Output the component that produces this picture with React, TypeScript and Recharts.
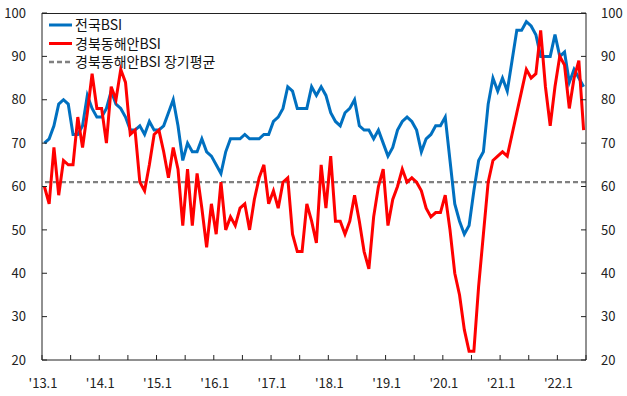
import React from 'react';
import { LineChart, Line, XAxis, YAxis, ReferenceLine } from 'recharts';

// 전국BSI (monthly, '13.1 ~ '22.6)
const nationalBSI = [
  70, 71, 74, 79, 80, 79, 72, 72, 74, 81,
  78, 76, 76, 78, 82, 79, 78, 76, 73, 73,
  74, 72, 75, 73, 73, 74, 77, 80, 74, 66,
  70, 68, 68, 71, 68, 67, 65, 63, 68, 71,
  71, 71, 72, 71, 71, 71, 72, 72, 75, 76,
  78, 83, 82, 78, 78, 78, 83, 81, 83, 81,
  77, 75, 74, 77, 78, 80, 74, 73, 73, 71,
  73, 70, 67, 69, 73, 75, 76, 75, 73, 68,
  71, 72, 74, 74, 76, 66, 56, 52, 49, 51,
  59, 66, 68, 79, 85, 82, 85, 82, 89, 96,
  96, 98, 97, 95, 90, 90, 90, 95, 90, 91,
  84, 87, 85, 83,
];

// 경북동해안BSI
const eastCoastBSI = [
  60, 56, 69, 58, 66, 65, 65, 76, 69, 77,
  86, 78, 78, 70, 83, 80, 87, 84, 72, 73,
  61, 59, 65, 72, 73, 68, 62, 69, 64, 51,
  64, 51, 63, 55, 46, 56, 49, 61, 50, 53,
  51, 55, 56, 50, 57, 62, 65, 56, 59, 55,
  61, 62, 49, 45, 45, 56, 52, 47, 65, 55,
  67, 52, 52, 49, 52, 58, 52, 45, 41, 53,
  60, 64, 51, 57, 60, 64, 61, 62, 61, 59,
  55, 53, 54, 54, 58, 50, 40, 35, 27, 22,
  22, 37, 49, 61, 66, 67, 68, 67, 72, 77,
  82, 87, 85, 86, 96, 83, 74, 83, 90, 88,
  78, 85, 89, 73,
];

// 경북동해안BSI 장기평균
const longTermAverage = 61;

const yearTickLabels = ["'13.1", "'14.1", "'15.1", "'16.1", "'17.1", "'18.1", "'19.1", "'20.1", "'21.1", "'22.1"];
const xTicks = [0, 6, 12, 18, 24, 30, 36, 42, 48, 54, 60, 66, 72, 78, 84, 90, 96, 102, 108, 114];
const yTicks = [20, 30, 40, 50, 60, 70, 80, 90, 100];

const data = nationalBSI.map((v, i) => ({
  x: i + 0.5,
  national: v,
  eastCoast: eastCoastBSI[i],
}));

const FONT = "'Noto Sans CJK KR', 'Noto Sans', sans-serif";
const AXIS = '#222';
const BLUE = '#0070C0';
const RED = '#FF0000';
const GRAY = '#808080';

const XTick = (props: any) => {
  const { x, y, payload } = props;
  const v = payload.value as number;
  const label = v % 12 === 0 ? yearTickLabels[v / 12] : '';
  return (
    <g>
      <line x1={x} x2={x} y1={y} y2={y - 5} stroke={AXIS} strokeWidth={1} />
      {label ? (
        <text x={x + 1} y={y + 28} textAnchor="middle" fontSize={13} fontFamily={FONT} fill="#222">
          {label}
        </text>
      ) : null}
    </g>
  );
};

const LeftTick = (props: any) => {
  const { x, y, payload } = props;
  return (
    <g>
      <line x1={x} x2={x + 5} y1={y} y2={y} stroke={AXIS} strokeWidth={1} />
      <text x={x - 16} y={y} dy="0.36em" textAnchor="end" fontSize={13} fontFamily={FONT} fill="#222">
        {payload.value}
      </text>
    </g>
  );
};

const RightTick = (props: any) => {
  const { x, y, payload } = props;
  return (
    <g>
      <line x1={x} x2={x - 5} y1={y} y2={y} stroke={AXIS} strokeWidth={1} />
      <text x={x + 15} y={y} dy="0.36em" textAnchor="start" fontSize={13} fontFamily={FONT} fill="#222">
        {payload.value}
      </text>
    </g>
  );
};

const legendItems = [
  { label: '전국BSI', color: BLUE, dash: undefined as string | undefined, width: 3 },
  { label: '경북동해안BSI', color: RED, dash: undefined as string | undefined, width: 3 },
  { label: '경북동해안BSI 장기평균', color: GRAY, dash: '5 3', width: 2.3 },
];

function ChartLegend() {
  return (
    <svg
      width={220}
      height={60}
      style={{ position: 'absolute', left: 46, top: 14, display: 'block', overflow: 'visible' }}
    >
      {legendItems.map((item, k) => {
        const cy = 11 + k * 18.5;
        return (
          <g key={item.label}>
            <line x1={3} x2={26} y1={cy} y2={cy} stroke={item.color} strokeWidth={item.width} strokeDasharray={item.dash} />
            <text x={29} y={cy} dy="0.36em" fontSize={14} fontFamily={FONT} fill="#111">
              {item.label}
            </text>
          </g>
        );
      })}
    </svg>
  );
}

export default function App() {
  return (
    <div style={{ position: 'absolute', left: 0, top: 0, width: 627, height: 396, background: '#fff' }}>
      <LineChart width={627} height={396} data={data} margin={{ top: 13, right: 0, bottom: 0, left: 0 }}>
        <XAxis
          dataKey="x"
          type="number"
          domain={[0, 114]}
          ticks={xTicks}
          interval={0}
          tickSize={0}
          tickMargin={0}
          height={36}
          axisLine={{ stroke: AXIS, strokeWidth: 1 }}
          tick={<XTick />}
          tickLine={false}
        />
        <YAxis
          yAxisId="left"
          orientation="left"
          domain={[20, 100]}
          ticks={yTicks}
          interval={0}
          width={42}
          tickSize={0}
          tickMargin={0}
          axisLine={{ stroke: AXIS, strokeWidth: 1 }}
          tickLine={false}
          tick={<LeftTick />}
        />
        <YAxis
          yAxisId="right"
          orientation="right"
          domain={[20, 100]}
          ticks={yTicks}
          interval={0}
          width={41}
          tickSize={0}
          tickMargin={0}
          axisLine={{ stroke: AXIS, strokeWidth: 1 }}
          tickLine={false}
          tick={<RightTick />}
        />
        <ReferenceLine yAxisId="right" y={longTermAverage} stroke={GRAY} strokeWidth={2.3} strokeDasharray="5 3" />
        <Line
          yAxisId="left"
          type="linear"
          dataKey="national"
          name="전국BSI"
          stroke={BLUE}
          strokeWidth={3}
          dot={false}
          isAnimationActive={false}
        />
        <Line
          yAxisId="right"
          type="linear"
          dataKey="eastCoast"
          name="경북동해안BSI"
          stroke={RED}
          strokeWidth={3}
          dot={false}
          isAnimationActive={false}
        />
      </LineChart>
      <div style={{ position: 'absolute', left: 42, top: 13, width: 544, height: 1, background: AXIS }} />
      <ChartLegend />
    </div>
  );
}
